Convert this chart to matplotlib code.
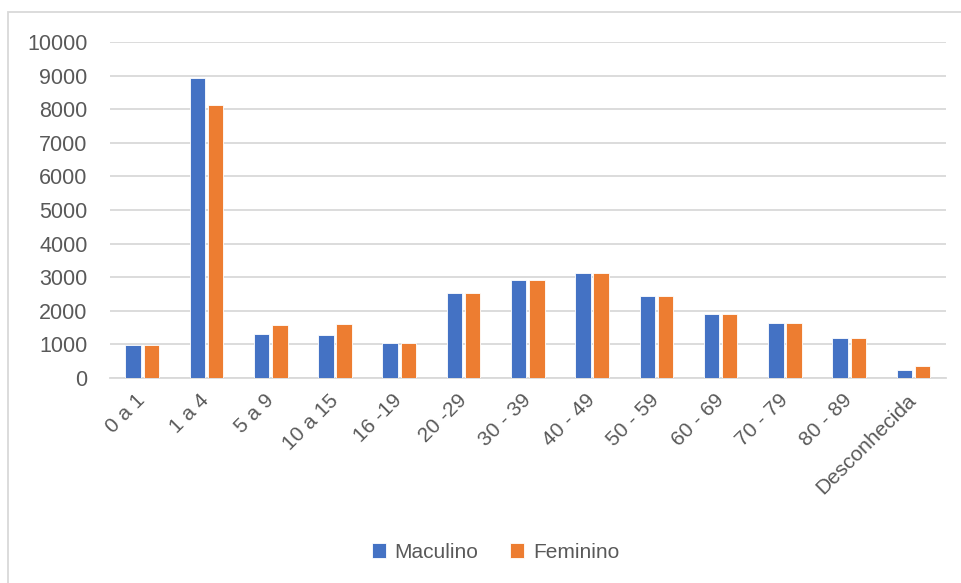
import numpy as np
import matplotlib
matplotlib.use("Agg")
import matplotlib.pyplot as plt
from matplotlib.patches import Rectangle

# age groups and counts per sex
faixas = ["0 a 1", "1 a 4", "5 a 9", "10 a 15", "16 -19", "20 -29", "30 - 39",
          "40 - 49", "50 - 59", "60 - 69", "70 - 79", "80 - 89", "Desconhecida"]
masculino = [980, 8930, 1310, 1290, 1030, 2530, 2920, 3130, 2440, 1910, 1640, 1190, 230]
feminino = [980, 8110, 1580, 1610, 1030, 2530, 2920, 3130, 2440, 1910, 1640, 1190, 360]

plt.rcParams['font.family'] = ['Liberation Sans', 'DejaVu Sans']
grey_txt = "#595959"
grid_c = "#d9d9d9"

fig = plt.figure(figsize=(9.62, 5.83), dpi=100)
ax = fig.add_axes([0.1143, 0.3516, 0.8687, 0.5764])

x = np.arange(len(faixas))
w = 0.24
ax.bar(x - 0.142, masculino, w, color="#4472C4", edgecolor="white", linewidth=0.6,
       label="Maculino", zorder=3)
ax.bar(x + 0.142, feminino, w, color="#ED7D31", edgecolor="white", linewidth=0.6,
       label="Feminino", zorder=3)

ax.set_xlim(-0.5, len(faixas) - 0.5)
ax.set_ylim(0, 10000)
ax.set_yticks(np.arange(0, 10001, 1000))
ax.yaxis.grid(True, color=grid_c, linewidth=1.3, zorder=0)
for s in ["top", "right", "left"]:
    ax.spines[s].set_visible(False)
ax.spines["bottom"].set_color(grid_c)
ax.spines["bottom"].set_linewidth(1.3)

ax.set_xticks(x)
ax.set_xticklabels(faixas, rotation=45, ha="right", va="center",
                   rotation_mode="anchor")
ax.tick_params(axis="x", length=0, pad=14, labelsize=15, labelcolor=grey_txt)
ax.tick_params(axis="y", length=0, pad=16, labelsize=15.5, labelcolor=grey_txt)

leg = fig.legend(loc="center", bbox_to_anchor=(0.515, 0.053), ncol=2, frameon=False,
                 fontsize=15, handlelength=0.7, handleheight=0.7,
                 handletextpad=0.4, columnspacing=1.5)
for t in leg.get_texts():
    t.set_color(grey_txt)

# chart area border
fig.patches.append(Rectangle((8 / 962, -0.02), 1.0, 1 - 12 / 583 + 0.02,
                             transform=fig.transFigure, fill=False,
                             edgecolor=grid_c, linewidth=1.3))

fig.savefig("out.png", dpi=100)
